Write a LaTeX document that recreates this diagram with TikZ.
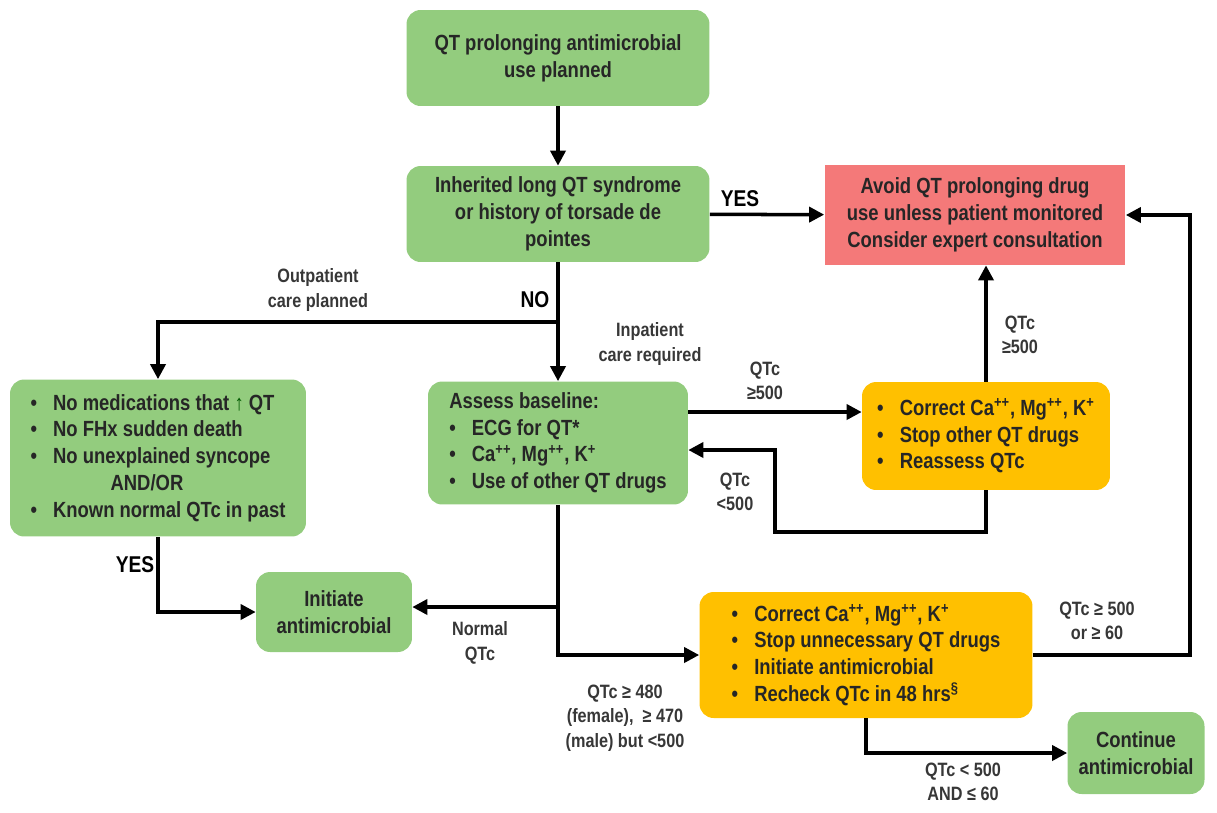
\documentclass[tikz,border=0pt]{standalone}
\usepackage{fontspec}
\setmainfont{Liberation Sans}[FakeStretch=0.84]
\usetikzlibrary{arrows.meta,positioning,calc}
\definecolor{boxgreen}{RGB}{147,204,126}
\definecolor{boxgold}{RGB}{255,192,0}
\definecolor{boxred}{RGB}{244,121,121}
\definecolor{lblgray}{RGB}{55,55,55}
\newcommand{\bl}[1][0.45cm]{\makebox[#1][l]{\textbullet}}
\newcommand{\pp}{\textsuperscript{++}}
\newcommand{\ps}{\textsuperscript{+}}
\tikzset{
  flow/.style={rounded corners=8pt, align=center, text=black!85,
               font=\fontsize{12.5}{15.2}\selectfont\bfseries, inner sep=3pt},
  greenbox/.style={flow, fill=boxgreen},
  goldbox/.style={flow, fill=boxgold, align=left},
  redbox/.style={flow, fill=boxred, rounded corners=0pt},
  arrow/.style={-{Triangle[length=3mm,width=3mm]}, line width=2pt},
  wire/.style={line width=2pt},
  cond/.style={align=center, text=lblgray, font=\fontsize{11}{13.8}\selectfont\bfseries},
  ans/.style={font=\fontsize{13}{15}\selectfont\bfseries}
}
\begin{document}
\begin{tikzpicture}[x=0.02cm, y=-0.02cm]
  \useasboundingbox (0,0) rectangle (1217,812);
  % boxes
  \node[greenbox, minimum width=6.06cm, minimum height=1.92cm] (plan) at (558,58)
    {QT prolonging antimicrobial\\use planned};
  \node[greenbox, minimum width=6.06cm, minimum height=1.92cm] (inh) at (558,214)
    {Inherited long QT syndrome\\or history of torsade de\\pointes};
  \node[redbox, minimum width=6.02cm, minimum height=2cm] (avoid) at (975,215)
    {Avoid QT prolonging drug\\use unless patient monitored\\Consider expert consultation};
  \node[greenbox, align=left, minimum width=5.92cm, minimum height=3.14cm] (outpt) at (158,458)
    {\bl No medications that {\color{green!35!black}↑} QT\\
     \bl No FHx sudden death\\
     \bl No unexplained syncope\\
     \hspace*{1.6cm}AND/OR\\
     \bl Known normal QTc in past};
  \node[greenbox, align=left, minimum width=5.2cm, minimum height=2.46cm] (assess) at (558,443)
    {Assess baseline:\\
     \bl ECG for QT*\\
     \bl Ca\pp, Mg\pp, K\ps\\
     \bl Use of other QT drugs};
  \node[goldbox, minimum width=4.96cm, minimum height=2.16cm] (fix) at (986,436)
    {\bl[0.35cm] Correct Ca\pp, Mg\pp, K\ps\\
     \bl[0.35cm] Stop other QT drugs\\
     \bl[0.35cm] Reassess QTc};
  \node[greenbox, minimum width=3.12cm, minimum height=1.6cm] (init) at (334,612)
    {Initiate\\antimicrobial};
  \node[goldbox, minimum width=6.66cm, minimum height=2.52cm] (recheck) at (866,655)
    {\bl[0.35cm] Correct Ca\pp, Mg\pp, K\ps\\
     \bl[0.35cm] Stop unnecessary QT drugs\\
     \bl[0.35cm] Initiate antimicrobial\\
     \bl[0.35cm] Recheck QTc in 48 hrs\textsuperscript{\S}};
  \node[greenbox, minimum width=2.74cm, minimum height=1.64cm] (cont) at (1136,753)
    {Continue\\antimicrobial};

  % branch points
  \coordinate (split) at (558,322);
  \coordinate (nsplit) at (558,607);
  \coordinate (back) at (775,532);
  \coordinate (rtop) at (1190,215);

  % connectors
  \draw[arrow] (plan) -- (inh);
  \draw[arrow] (inh) -- (avoid);
  \draw[wire] (inh) -- (split);
  \draw[arrow] (split) -- (assess);
  \draw[arrow] (split) -| (outpt);
  \draw[arrow] (assess.east |- 0,412) -- (fix.west |- 0,412);
  \draw[arrow] (fix.south) |- (back) |- (assess.east |- 0,450);
  \draw[arrow] (fix.north) -- (fix.north |- avoid.south);
  \draw[arrow] (assess.south) |- (recheck.west);
  \draw[arrow] (nsplit) -- (nsplit -| init.east);
  \draw[arrow] (outpt.south) |- (init.west);
  \draw[arrow] (recheck.east) -| (rtop) -- (avoid.east);
  \draw[arrow] (recheck.south) |- (cont.west);

  % labels
  \node[ans] (yes1) at (740,199) {YES};
  \node[ans] (no1) at (535,300) {NO};
  \node[ans] (yes2) at (135,565) {YES};
  \node[cond] (outlbl) at (318,290) {Outpatient\\care planned};
  \node[cond] (inlbl) at (650,344) {Inpatient\\care required};
  \node[cond] (hi1) at (765,381) {QTc\\≥500};
  \node[cond] (lo1) at (735,492) {QTc\\<500};
  \node[cond] (hi2) at (1020,335) {QTc\\≥500};
  \node[cond] (norm) at (480,643) {Normal\\QTc};
  \node[cond] (mid) at (625,718) {QTc ≥ 480\\(female), \ ≥ 470\\(male) but <500};
  \node[cond] (hi3) at (1097,621) {QTc ≥ 500\\or ≥ 60};
  \node[cond] (lo3) at (963,782) {QTc < 500\\AND ≤ 60};
\end{tikzpicture}
\end{document}
